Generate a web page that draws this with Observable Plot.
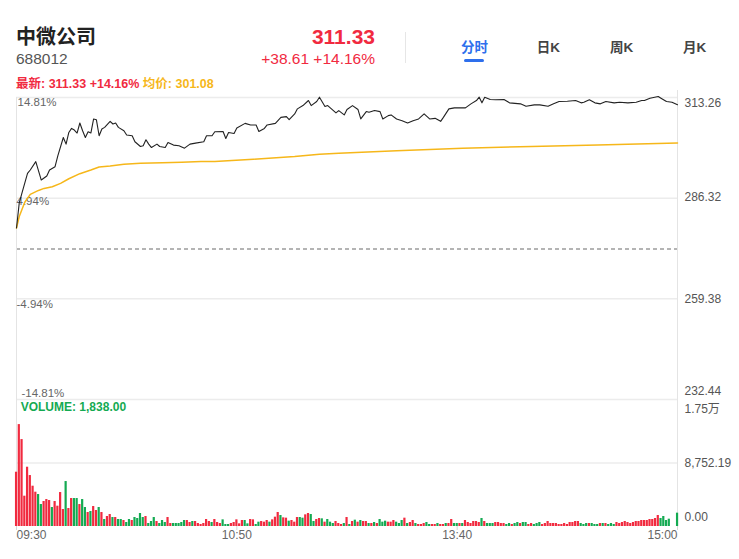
<!DOCTYPE html>
<html><head><meta charset="utf-8">
<script src="https://cdn.jsdelivr.net/npm/d3@7"></script>
<script src="https://cdn.jsdelivr.net/npm/@observablehq/plot@0.6"></script>
<style>
html,body{margin:0;padding:0;background:#fff;}
body{width:739px;height:559px;position:relative;overflow:hidden;font-family:"Liberation Sans","Noto Sans CJK SC",sans-serif;}
.a{position:absolute;white-space:nowrap;line-height:1;}
#main{position:absolute;left:0;top:90px;}
#vol{position:absolute;left:0;top:399px;}
</style></head><body>
<div id="main"></div><div id="vol"></div>
<script>
// ---------- data ----------
const stockName = "中微公司";
const stockCode = "688012";
const lastPrice = 311.33;
const priceChange = 38.61;
const changePct = 14.16;
const avgPriceLast = 301.08;
const lastVolume = 1838.00;
const prevClose = 272.72;
const tabs = ["分时", "日K", "周K", "月K"];
const pctTicks = ["14.81%", "4.94%", "-4.94%", "-14.81%"];
const priceTicks = [313.26, 286.32, 259.38, 232.44];
const volTicks = [17504.38, 8752.19, 0];
const volTickLabels = ["1.75万", "8,752.19", "0.00"];
const timeTicks = ["09:30", "10:50", "13:40", "15:00"];

// trading minute (0 = 09:30, 120 = 11:30/13:00, 240 = 15:00)
const priceT = [
  0, 1, 2, 4, 5, 7, 9, 11, 12, 14,
  15, 17, 18, 19, 20, 21, 22, 23, 24, 25,
  26, 27, 28, 29, 30, 31, 32, 34, 35, 36,
  37, 39, 40, 42, 43, 45, 46, 47, 48, 49,
  51, 52, 54, 55, 57, 59, 61, 63, 65, 68,
  69, 71, 72, 75, 76, 77, 79, 80, 83, 85,
  87, 88, 90, 91, 94, 96, 98, 99, 101, 102,
  104, 106, 107, 109, 110, 112, 113, 116, 117, 119,
  120, 122, 124, 125, 127, 128, 130, 132, 133, 135,
  136, 138, 140, 142, 144, 146, 148, 150, 152, 154,
  155, 157, 159, 161, 163, 165, 167, 168, 169, 170,
  172, 174, 177, 179, 183, 185, 188, 190, 193, 195,
  197, 200, 203, 205, 206, 208, 210, 212, 214, 217,
  219, 222, 225, 227, 228, 230, 233, 234, 236, 238,
  240
];
const price = [
  278.32, 285.05, 287.75, 292.97, 293.86, 296.10, 291.17, 292.25, 293.86, 294.75,
  297.63, 302.56, 300.79, 303.91, 304.99, 304.56, 303.75, 306.44, 304.37, 302.56,
  304.10, 303.75, 307.52, 307.33, 303.02, 304.83, 305.26, 306.88, 306.17, 306.44,
  305.26, 304.37, 303.21, 303.02, 301.41, 300.14, 300.33, 301.95, 300.79, 299.87,
  300.79, 300.14, 299.87, 301.22, 300.52, 300.33, 299.71, 300.79, 301.06, 301.41,
  303.02, 303.02, 304.10, 304.18, 302.30, 303.91, 303.64, 305.10, 306.34, 305.91,
  305.91, 304.18, 304.99, 305.91, 306.34, 307.95, 308.14, 307.33, 308.87, 310.22,
  311.10, 312.45, 311.10, 312.18, 313.34, 310.84, 311.10, 309.14, 309.76, 308.60,
  310.03, 311.10, 310.03, 307.52, 309.49, 309.30, 309.76, 309.49, 307.52, 308.41,
  308.60, 307.52, 307.06, 306.44, 307.06, 307.52, 308.87, 307.52, 307.68, 306.88,
  307.95, 310.22, 310.49, 310.49, 310.49, 311.56, 312.45, 313.34, 311.83, 313.34,
  312.72, 312.64, 312.72, 311.83, 311.56, 310.92, 311.29, 311.29, 310.92, 311.56,
  312.18, 312.26, 312.45, 311.83, 312.00, 312.64, 311.83, 311.56, 312.18, 311.83,
  312.00, 311.83, 312.00, 312.45, 312.45, 313.07, 313.53, 313.07, 312.18, 312.00,
  311.33
];
const avgT = [0, 1, 3, 5, 8, 10, 13, 16, 19, 23, 27, 30, 34, 39, 45, 53, 60, 67, 72, 86, 101, 110, 117, 138, 162, 187, 211, 240];
const avgPrice = [278.32, 281.40, 285.24, 287.32, 288.39, 288.93, 289.36, 290.28, 291.52, 292.87, 293.86, 294.67, 294.94, 295.40, 295.67, 295.83, 295.94, 296.10, 296.10, 296.75, 297.45, 298.10, 298.36, 298.98, 299.71, 300.14, 300.52, 301.08];

const volume = [
  7482, 14045, 11980, 4177, 8170, 7023, 5554, 4728, 4406, 3029,
  3443, 3718, 3580, 2616, 3443, 2800, 4682, 2341, 6197, 2479,
  3856, 3856, 3856, 3029, 3718, 2616, 1928, 2066, 2754, 2203,
  2616, 1928, 964, 1377, 1652, 1239, 1239, 964, 964, 826,
  551, 964, 826, 1239, 1102, 1790, 1239, 1377, 413, 689,
  1239, 689, 413, 826, 551, 1239, 413, 413, 413, 413,
  551, 826, 826, 551, 689, 689, 413, 275, 413, 964,
  689, 551, 964, 551, 413, 918, 275, 275, 413, 551,
  918, 367, 826, 826, 367, 964, 918, 275, 597, 689,
  597, 826, 597, 918, 1285, 1928, 1515, 1193, 1148, 734,
  826, 597, 1239, 1239, 1148, 1607, 1790, 1652, 689, 964,
  1102, 1056, 597, 964, 597, 413, 689, 413, 275, 413,
  1239, 275, 689, 872, 597, 826, 689, 689, 413, 413,
  551, 413, 964, 597, 734, 597, 597, 826, 597, 413,
  826, 1148, 413, 551, 826, 413, 275, 275, 413, 551,
  275, 275, 275, 413, 275, 275, 413, 413, 964, 413,
  413, 413, 413, 826, 551, 413, 689, 689, 551, 1102,
  689, 413, 413, 413, 551, 551, 413, 413, 275, 413,
  275, 413, 551, 413, 551, 551, 275, 413, 275, 413,
  551, 275, 413, 689, 413, 413, 413, 275, 275, 413,
  275, 551, 551, 689, 689, 413, 275, 413, 413, 413,
  275, 275, 413, 413, 413, 275, 413, 275, 551, 413,
  551, 689, 551, 413, 551, 689, 689, 826, 826, 826,
  964, 964, 1102, 1515, 1102, 1377, 826, 1010, 0, 0,
  1838
];
// r = up (red), g = down (green)
const volDir = (
  "rrrrrrrrgg" + "rrrgrrrrgr" + "rggrggrgrr" + "grgrrgrggr" + "ggrggggrgg" +
  "grgggrrggg" + "ggrrgrrrrr" + "rgrrrgggrr" + "rrrggrrggr" + "rrgrrrgrrg" +
  "rrrggrrggr" + "rgrgggrrrg" + "rgrgrgrrgr" + "grgggrrrgg" + "grgrrgrrrg" +
  "grrgrrgrrg" + "grgrrrrrrg" + "rgggrrrrgg" + "rggrggrrgg" + "grrrrrrrrr" +
  "rrrrrgggrg" + "ggrgrgggrr" + "rrrrrrrrrr" + "rrrrgggggg" + "g"
).split("");

// ---------- styles ----------
const RED = "#f12a3f", GREEN = "#14aa52", GOLD = "#f6b71a", BLUE = "#2e6fec";
const GRID = "#ececec", BORDER = "#e4e4e4";
const FONT = "'Liberation Sans','Noto Sans CJK SC',sans-serif";
const f2 = d3.format(",.2f");
const toMin = s => { const [h, m] = s.split(":").map(Number); const v = h * 60 + m; return v <= 690 ? v - 570 : 120 + (v - 780); };
const timeTickMins = timeTicks.map(toMin);

// ---------- header ----------
function put(html, style) {
  const d = document.createElement("div");
  d.className = "a"; d.innerHTML = html; Object.assign(d.style, style);
  document.body.appendChild(d); return d;
}
put(stockName, {left: "16px", top: "26.5px", fontSize: "20px", fontWeight: "bold", color: "#222"});
put(stockCode, {left: "16px", top: "50.8px", fontSize: "15.5px", color: "#555"});
put(f2(lastPrice), {right: "364px", top: "26px", fontSize: "21px", fontWeight: "bold", color: RED});
put(`+${f2(priceChange)} +${f2(changePct)}%`, {right: "364px", top: "50.8px", fontSize: "15.5px", color: RED});
put("", {left: "405px", top: "32px", width: "1px", height: "31px", background: "#e6e6e6"});
const tabX = [461, 536.7, 610, 683];
tabs.forEach((t, i) => put(t, {left: tabX[i] + "px", top: "40.8px", fontSize: "13.5px", fontWeight: "bold", color: i === 0 ? BLUE : "#444"}));
put("", {left: "464px", top: "59px", width: "20px", height: "2.5px", borderRadius: "2px", background: BLUE});
put(`<span style="color:${RED}">最新: ${f2(lastPrice)} +${f2(changePct)}%</span> <span style="color:${GOLD}">均价: ${f2(avgPriceLast)}</span>`,
  {left: "16px", top: "77.5px", fontSize: "12.5px", fontWeight: "bold"});

// ---------- main price chart ----------
const leftDy = [4.5, 3.5, 5, -6.5], leftDx = [1, 0, 0, 5];
const rightDy = [6, -1.5, 0, -8];
const main = Plot.plot({
  width: 739, height: 310, marginTop: 7, marginBottom: 1, marginLeft: 16, marginRight: 62,
  style: {fontFamily: FONT, background: "transparent", overflow: "visible"},
  x: {domain: [0, 240], axis: null},
  y: {domain: [232.44, 313.26], axis: null},
  marks: [
    Plot.ruleY(priceTicks, {stroke: GRID, strokeWidth: 1.5}),
    Plot.ruleY([prevClose], {stroke: "#9c9c9c", strokeWidth: 1.3, strokeDasharray: "4,3"}),
    Plot.ruleX([0], {stroke: BORDER, strokeWidth: 1}),
    Plot.ruleX([240], {stroke: BORDER, strokeWidth: 1, insetTop: -7}),
    ...pctTicks.map((t, i) => Plot.text([t], {frameAnchor: "left", y: [priceTicks[i]], text: d => d, textAnchor: "start", dx: leftDx[i], dy: leftDy[i], fontSize: 11.5, fill: "#666"})),
    ...priceTicks.map((p, i) => Plot.text([p], {frameAnchor: "right", y: d => d, text: d => f2(d), textAnchor: "start", dx: 7, dy: rightDy[i], fontSize: 12, fill: "#555"})),
    Plot.line(avgT, {x: d => d, y: (d, i) => avgPrice[i], stroke: GOLD, strokeWidth: 1.5}),
    Plot.line(priceT, {x: d => d, y: (d, i) => price[i], stroke: "#222", strokeWidth: 1.1})
  ]
});
document.getElementById("main").appendChild(main);

// ---------- volume chart ----------
const volDy = [10, 0.5, -9];
const tAnchor = ["start", "middle", "middle", "end"];
const vol = Plot.plot({
  width: 739, height: 160, marginTop: 0, marginBottom: 33, marginLeft: 16, marginRight: 62,
  style: {fontFamily: FONT, background: "transparent", overflow: "visible"},
  x: {domain: [0, 240], axis: null},
  y: {domain: [0, 17504.38], axis: null},
  color: {domain: ["r", "g"], range: [RED, GREEN]},
  marks: [
    Plot.ruleY([volTicks[1]], {stroke: GRID, strokeWidth: 1.5}),
    Plot.ruleX([0], {stroke: BORDER, strokeWidth: 1, insetBottom: -4}),
    Plot.ruleX([240], {stroke: BORDER, strokeWidth: 1, insetBottom: -4}),
    Plot.rect(volume, {x1: (d, i) => i - 0.38, x2: (d, i) => i + 0.42, y1: () => 0, y2: d => d, fill: (d, i) => volDir[i]}),
    Plot.axisX({ticks: timeTickMins, tickSize: 4, tickFormat: () => "", stroke: "#d6d6d6"}),
    ...timeTicks.map((t, i) => Plot.text([t], {x: [timeTickMins[i]], frameAnchor: "bottom", text: d => d, textAnchor: tAnchor[i], dy: 12, fontSize: 12, fill: "#666"})),
    ...volTickLabels.map((t, i) => Plot.text([t], {frameAnchor: "right", y: [volTicks[i]], text: d => d, textAnchor: "start", dx: 7, dy: volDy[i], fontSize: 12, fill: "#555"}))
  ]
});
document.getElementById("vol").appendChild(vol);

put(`VOLUME: ${f2(lastVolume)}`, {left: "20.7px", top: "400.7px", fontSize: "12px", fontWeight: "bold", color: GREEN});
</script>
</body></html>
